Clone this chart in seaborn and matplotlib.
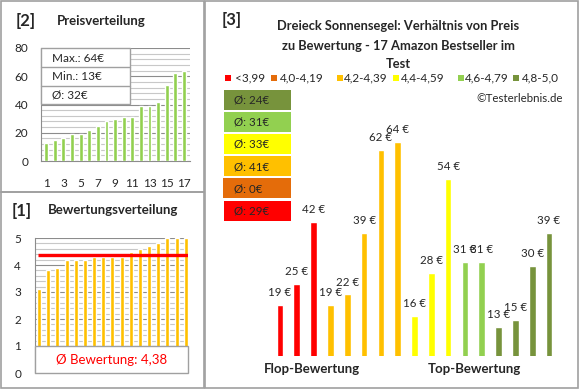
import matplotlib
matplotlib.use("Agg")
import matplotlib.pyplot as plt
from matplotlib.patches import Rectangle
from matplotlib.lines import Line2D
from matplotlib.ticker import MultipleLocator
import seaborn as sns
import pandas as pd

# ---------------- data ----------------
price_positions = [str(i) for i in range(1, 18)]
prices_sorted = [13, 15, 16, 19, 19, 22, 25, 28, 30, 31, 31, 39, 39, 42, 54, 62, 64]
price_max, price_min, price_avg = 64, 13, 32

ratings_sorted = [3.1, 3.8, 3.9, 4.2, 4.2, 4.2, 4.3, 4.3, 4.3, 4.3, 4.5, 4.6, 4.7, 4.8, 5.0, 5.0, 5.0]
rating_avg = 4.38

group_prices = [19, 25, 42, 19, 22, 39, 62, 64, 16, 28, 54, 31, 31, 13, 15, 30, 39]
group_labels = (["<3,99"] * 3 + ["4,2-4,39"] * 5 + ["4,4-4,59"] * 3
                + ["4,6-4,79"] * 2 + ["4,8-5,0"] * 4)
legend_labels = ["<3,99", "4,0-4,19", "4,2-4,39", "4,4-4,59", "4,6-4,79", "4,8-5,0"]
legend_colors = ["#FF0000", "#E46C0A", "#FFC000", "#FFFF00", "#92D050", "#77933C"]
group_avgs = [29, 0, 41, 33, 31, 24]  # same order as legend_labels

# ---------------- setup ----------------
sns.set_theme(style="white")
plt.rcParams["font.family"] = ["Lato", "DejaVu Sans"]

W, H = 580, 390
fig = plt.figure(figsize=(5.8, 3.9), dpi=100)
fig.patch.set_facecolor("white")
BORDER = "#A0A0A0"
MAJ = "#8C8C8C"
MIN = "#C8C8C8"


def axes_px(l, t, r, b):
    return fig.add_axes([l / W, 1 - b / H, (r - l) / W, (b - t) / H])


def ft(x, y, s, **kw):
    return fig.text(x / W, 1 - y / H, s, **kw)


def rect_px(l, t, r, b, **kw):
    fig.add_artist(Rectangle((l / W, 1 - b / H), (r - l) / W, (b - t) / H,
                             transform=fig.transFigure, **kw))


def line_px(x0, y0, x1, y1, **kw):
    fig.add_artist(Line2D([x0 / W, x1 / W], [1 - y0 / H, 1 - y1 / H],
                          transform=fig.transFigure, **kw))


# panel borders
rect_px(1, 1, 204, 192, fill=False, ec=BORDER, lw=1.2, zorder=0)
rect_px(1, 192, 204, 388, fill=False, ec=BORDER, lw=1.2, zorder=0)
rect_px(205, 1, 578, 388, fill=False, ec=BORDER, lw=1.2, zorder=0)

# ---------------- [2] Preisverteilung ----------------
ft(16, 21, "[2]", fontsize=12, fontweight="bold", va="center")
ft(57, 21, "Preisverteilung", fontsize=9.5, fontweight="bold", va="center")

ax2 = axes_px(41, 48, 190, 161)
df2 = pd.DataFrame({"pos": price_positions, "price": prices_sorted})
sns.barplot(data=df2, x="pos", y="price", color="#92D050", saturation=1,
            width=0.45, errorbar=None, ax=ax2, zorder=3)
ax2.set_ylim(0, 80)
ax2.set_xlim(-0.6, 16.7)
ax2.yaxis.set_major_locator(MultipleLocator(20))
ax2.yaxis.set_minor_locator(MultipleLocator(4))
ax2.grid(True, which="major", axis="y", color=MAJ, lw=0.8)
ax2.grid(True, which="minor", axis="y", color=MIN, lw=0.8)
ax2.set_axisbelow(True)
ax2.set_xticks(range(0, 17, 2))
ax2.set_xticklabels([price_positions[i] for i in range(0, 17, 2)])
ax2.set_xlabel("")
ax2.set_ylabel("")
ax2.tick_params(axis="both", which="both", length=0, labelsize=8.5)
ax2.tick_params(axis="x", pad=12)
ax2.tick_params(axis="y", pad=9)
for s in ["top", "right"]:
    ax2.spines[s].set_visible(False)
for s in ["left", "bottom"]:
    ax2.spines[s].set_color(MAJ)
    ax2.spines[s].set_linewidth(0.8)

# stats box
rect_px(41, 48, 130, 104, fc="white", ec=BORDER, lw=1, zorder=5)
line_px(41, 67, 130, 67, color=BORDER, lw=1, zorder=6)
line_px(41, 86, 130, 86, color=BORDER, lw=1, zorder=6)
ft(52, 59, f"Max.: {price_max}€", fontsize=8.5, va="center", zorder=7)
ft(52, 77, f"Min.: {price_min}€", fontsize=8.5, va="center", zorder=7)
ft(52, 95, f"Ø: {price_avg}€", fontsize=8.5, va="center", zorder=7)

# ---------------- [1] Bewertungsverteilung ----------------
ft(12, 211, "[1]", fontsize=12, fontweight="bold", va="center")
ft(48, 210, "Bewertungsverteilung", fontsize=9.5, fontweight="bold", va="center")

ax1 = axes_px(35, 238, 188, 373)
df1 = pd.DataFrame({"pos": price_positions, "rating": ratings_sorted})
sns.barplot(data=df1, x="pos", y="rating", color="#FFC000", saturation=1,
            width=0.44, errorbar=None, ax=ax1, zorder=3)
ax1.set_ylim(0, 5)
x0, x1 = -0.45, 16.25
ax1.set_xlim(x0, x1)
ax1.yaxis.set_major_locator(MultipleLocator(1))
ax1.yaxis.set_minor_locator(MultipleLocator(0.2))
ax1.grid(True, which="major", axis="y", color=MAJ, lw=0.8)
ax1.grid(True, which="minor", axis="y", color=MIN, lw=0.8)
ax1.set_axisbelow(True)
ax1.set_xticks([])
ax1.set_xlabel("")
ax1.set_ylabel("")
ax1.tick_params(axis="both", which="both", length=0, labelsize=8.5)
ax1.tick_params(axis="y", pad=10)
for s in ["top", "right", "bottom"]:
    ax1.spines[s].set_visible(False)
ax1.spines["left"].set_color(MAJ)
ax1.spines["left"].set_linewidth(0.8)
ax1.hlines(rating_avg, -0.1, x1, color="#FF0000", lw=2.4, zorder=4)
ax1.add_patch(Rectangle((x0, 0), x1 - x0, 1, fc="white", ec=BORDER, lw=1,
                        zorder=5, clip_on=False))
ax1.text((x0 + x1) / 2, 0.5, "Ø Bewertung: " + f"{rating_avg:.2f}".replace(".", ","),
         color="#FF0000", fontsize=9.5, ha="center", va="center", zorder=6)

# ---------------- [3] main chart ----------------
ft(222, 20, "[3]", fontsize=12, fontweight="bold", va="center")
ft(398, 26, "Dreieck Sonnensegel: Verhältnis von Preis", fontsize=9.3, fontweight="bold",
   ha="center", va="center")
ft(399, 46, "zu Bewertung - 17 Amazon Bestseller im", fontsize=9.3, fontweight="bold",
   ha="center", va="center")
ft(398, 64, "Test", fontsize=9.3, fontweight="bold", ha="center", va="center")

# legend row
leg_sq_x = [225, 271, 337, 393, 458, 513]
leg_tx_x = [235, 280, 344, 401, 465, 522]
for sx, tx, lab, col in zip(leg_sq_x, leg_tx_x, legend_labels, legend_colors):
    rect_px(sx, 75, sx + 6, 81, fc=col, ec="none")
    ft(tx, 78, lab, fontsize=8.5, va="center")

ft(563, 98, "©Testerlebnis.de", fontsize=8.3, ha="right", va="center")

# average boxes (top: best category)
box_tops = [90, 112, 134, 156, 178, 201]
for top, lab_i in zip(box_tops, [5, 4, 3, 2, 1, 0]):
    left = 224 if lab_i != 1 else 223
    rect_px(left, top, 291, top + 20, fc=legend_colors[lab_i], ec="none")
    ft(234, top + 10.5, f"Ø: {group_avgs[lab_i]}€", fontsize=8.3, va="center")

ax3 = axes_px(271.6, 121, 557.4, 356)
df3 = pd.DataFrame({"pos": list(range(17)), "price": group_prices, "grp": group_labels})
pal = dict(zip(legend_labels, legend_colors))
sns.barplot(data=df3, x="pos", y="price", hue="grp", palette=pal, dodge=False,
            saturation=1, width=0.4, errorbar=None, legend=False, ax=ax3)
ax3.set_ylim(5, 5 + 235 / 3.62)
ax3.set_xlim(-0.5, 16.5)
for c in ax3.containers:
    ax3.bar_label(c, fmt="{:.0f} €", padding=5, fontsize=8.3)
ax3.axis("off")

ft(312, 369, "Flop-Bewertung", fontsize=9.5, fontweight="bold", ha="center", va="center")
ft(474, 369, "Top-Bewertung", fontsize=9.5, fontweight="bold", ha="center", va="center")

fig.savefig("out.png", dpi=100, facecolor="white")
